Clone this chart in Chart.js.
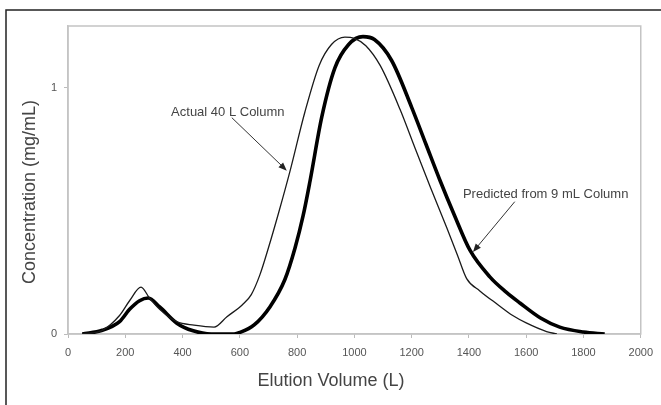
<!DOCTYPE html>
<html>
<head>
<meta charset="utf-8">
<script src="https://cdn.jsdelivr.net/npm/chart.js@4.4.0/dist/chart.umd.min.js"></script>
<style>
  html, body { margin: 0; padding: 0; background: #fff; }
  canvas { display: block; }
</style>
</head>
<body>
<canvas id="elutionChart" width="661" height="405"></canvas>
<script>
// Elution volume (L) and concentration (mg/mL)
const actualVol = [50, 120, 180, 215, 255, 285, 320, 380, 440, 510, 555, 610, 640, 670, 700, 735, 775, 827, 877, 920, 967, 1000, 1040, 1090, 1160, 1210, 1264, 1323, 1360, 1392, 1438, 1500, 1553, 1600, 1671, 1707];
const actualConc = [0, 0.015, 0.075, 0.135, 0.19, 0.145, 0.10, 0.05, 0.036, 0.028, 0.07, 0.12, 0.16, 0.24, 0.35, 0.49, 0.66, 0.90, 1.09, 1.175, 1.205, 1.20, 1.17, 1.09, 0.91, 0.76, 0.60, 0.43, 0.32, 0.225, 0.175, 0.12, 0.075, 0.045, 0.01, 0];

const predVol = [50, 120, 180, 215, 250, 280, 320, 380, 437, 500, 580, 600, 650, 705, 757, 793, 821, 845, 886, 932, 980, 1030, 1070, 1130, 1200, 1250, 1298, 1350, 1403, 1473, 1530, 1578, 1650, 1717, 1800, 1874];
const predConc = [0, 0.015, 0.05, 0.10, 0.135, 0.146, 0.11, 0.044, 0.013, 0, 0, 0.006, 0.037, 0.11, 0.22, 0.35, 0.48, 0.62, 0.88, 1.08, 1.175, 1.207, 1.195, 1.11, 0.92, 0.77, 0.626, 0.48, 0.341, 0.232, 0.17, 0.126, 0.065, 0.028, 0.008, 0];

const xTicks = [0, 200, 400, 600, 800, 1000, 1200, 1400, 1600, 1800, 2000];
const yTicks = [0, 1];

const notes = [
  { text: 'Actual 40 L Column', at: [360, 0.90], from: [572, 0.878], to: [764, 0.663] },
  { text: 'Predicted from 9 mL Column', at: [1379, 0.565], from: [1560, 0.537], to: [1414, 0.333] }
];

function toPoints(xs, ys) {
  return xs.map((x, i) => ({ x: x, y: ys[i] }));
}

const FONT = '"Liberation Sans", Arial, sans-serif';

const extras = {
  id: 'extras',
  beforeDraw(chart) {
    const ctx = chart.ctx;
    ctx.save();
    ctx.fillStyle = '#fff';
    ctx.fillRect(0, 0, chart.width, chart.height);
    // outer frame
    ctx.strokeStyle = '#222';
    ctx.lineWidth = 1.5;
    ctx.beginPath();
    ctx.moveTo(6, chart.height);
    ctx.lineTo(6, 10);
    ctx.lineTo(chart.width, 10);
    ctx.stroke();
    // plot box
    const a = chart.chartArea;
    ctx.strokeStyle = '#c4c4c4';
    ctx.lineWidth = 1.5;
    ctx.strokeRect(a.left, a.top, a.right - a.left, a.bottom - a.top);
    ctx.restore();
  },
  afterDraw(chart) {
    const ctx = chart.ctx;
    const xs = chart.scales.x, ys = chart.scales.y;
    ctx.save();
    // axis titles
    ctx.fillStyle = '#444';
    ctx.font = '18px ' + FONT;
    ctx.textAlign = 'center';
    ctx.textBaseline = 'middle';
    ctx.fillText('Elution Volume (L)', 331, 381);
    ctx.save();
    ctx.translate(30, 192);
    ctx.rotate(-Math.PI / 2);
    ctx.fillText('Concentration (mg/mL)', 0, 0);
    ctx.restore();

    // annotations with arrows
    ctx.font = '13px ' + FONT;
    ctx.textAlign = 'left';
    notes.forEach(n => {
      ctx.fillStyle = '#444';
      ctx.fillText(n.text, xs.getPixelForValue(n.at[0]), ys.getPixelForValue(n.at[1]));
      const x1 = xs.getPixelForValue(n.from[0]), y1 = ys.getPixelForValue(n.from[1]);
      const x2 = xs.getPixelForValue(n.to[0]), y2 = ys.getPixelForValue(n.to[1]);
      const ang = Math.atan2(y2 - y1, x2 - x1);
      const head = 9;
      ctx.strokeStyle = '#333';
      ctx.lineWidth = 1;
      ctx.beginPath();
      ctx.moveTo(x1, y1);
      ctx.lineTo(x2 - Math.cos(ang) * head * 0.6, y2 - Math.sin(ang) * head * 0.6);
      ctx.stroke();
      ctx.fillStyle = '#222';
      ctx.beginPath();
      ctx.moveTo(x2, y2);
      ctx.lineTo(x2 - head * Math.cos(ang - 0.38), y2 - head * Math.sin(ang - 0.38));
      ctx.lineTo(x2 - head * Math.cos(ang + 0.38), y2 - head * Math.sin(ang + 0.38));
      ctx.closePath();
      ctx.fill();
    });
    ctx.restore();
  }
};

const data = {
  datasets: [
    {
      label: 'Actual 40 L Column',
      data: toPoints(actualVol, actualConc),
      borderColor: '#1a1a1a',
      borderWidth: 1.3,
      showLine: true,
      pointRadius: 0,
      cubicInterpolationMode: 'monotone'
    },
    {
      label: 'Predicted from 9 mL Column',
      data: toPoints(predVol, predConc),
      borderColor: '#000',
      borderWidth: 3.6,
      showLine: true,
      pointRadius: 0,
      cubicInterpolationMode: 'monotone'
    }
  ]
};

const config = {
  type: 'scatter',
  data: data,
  options: {
    responsive: false,
    devicePixelRatio: 1,
    animation: false,
    layout: { padding: { top: 26, right: 20, left: 0, bottom: 0 } },
    plugins: { legend: { display: false }, tooltip: { enabled: false } },
    scales: {
      x: {
        type: 'linear',
        min: 0,
        max: 2000,
        afterBuildTicks: (s) => { s.ticks = xTicks.map(v => ({ value: v })); },
        afterFit: (s) => { s.height = 71; },
        ticks: { font: { family: FONT, size: 11 }, color: '#555', padding: 8, maxRotation: 0, callback: (v) => String(v) },
        grid: { drawOnChartArea: false, tickLength: 4, color: '#bbb' },
        border: { color: '#c4c4c4', width: 1.5 }
      },
      y: {
        type: 'linear',
        min: 0,
        max: 1.25,
        afterBuildTicks: (s) => { s.ticks = yTicks.map(v => ({ value: v })); },
        afterFit: (s) => { s.width = 68; },
        ticks: { font: { family: FONT, size: 11 }, color: '#555', padding: 7, callback: (v) => String(v) },
        grid: { drawOnChartArea: false, tickLength: 4, color: '#bbb' },
        border: { color: '#c4c4c4', width: 1.5 }
      }
    }
  },
  plugins: [extras]
};

const myChart = new Chart(document.getElementById('elutionChart'), config);
</script>
</body>
</html>
